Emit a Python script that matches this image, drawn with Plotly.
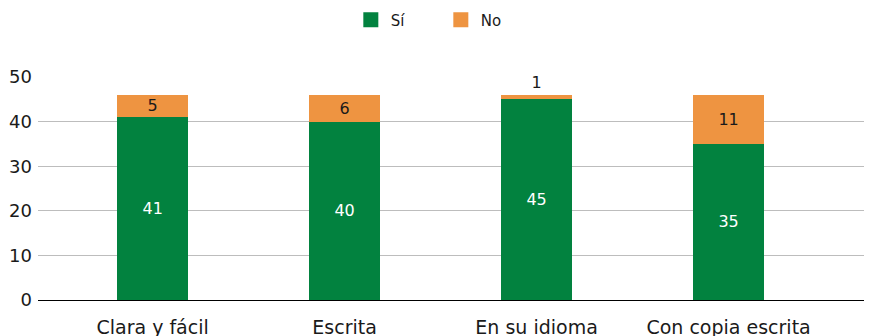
import plotly.graph_objects as go

categories = ["Clara y fácil", "Escrita", "En su idioma", "Con copia escrita"]
si_values = [41, 40, 45, 35]
no_values = [5, 6, 1, 11]
y_ticks = [0, 10, 20, 30, 40, 50]

GREEN = "#02823F"
ORANGE = "#EE9441"
FONT = "DejaVu Sans"

fig = go.Figure()
fig.add_trace(go.Bar(
    x=categories, y=si_values, name="Sí", marker=dict(color=GREEN, line=dict(width=0)),
    width=0.37, text=[str(v) for v in si_values], textposition="inside", textangle=0,
    insidetextanchor="middle", textfont=dict(color="white", size=16, family=FONT),
    showlegend=False,
))
no_pos = ["outside" if v < 2 else "inside" for v in no_values]
fig.add_trace(go.Bar(
    x=categories, y=no_values, name="No", marker=dict(color=ORANGE, line=dict(width=0)),
    width=0.37, text=[str(v) for v in no_values], textposition=no_pos, textangle=0,
    insidetextanchor="middle", textfont=dict(color="#1a1a1a", size=16, family=FONT),
    outsidetextfont=dict(color="#1a1a1a", size=16, family=FONT),
    showlegend=False,
))
# legend entries with larger square swatches
for name, col in [("Sí", GREEN), ("No", ORANGE)]:
    fig.add_trace(go.Scatter(
        x=[None], y=[None], mode="markers", name=name,
        marker=dict(symbol="square", size=15, color=col), showlegend=True,
    ))

fig.update_layout(
    barmode="stack",
    width=864, height=328,
    margin=dict(l=30, r=0, t=69, b=36, autoexpand=False),
    paper_bgcolor="white", plot_bgcolor="white",
    font=dict(family=FONT, color="#1a1a1a"),
    showlegend=True,
    legend=dict(orientation="h", x=0.483, xanchor="center", y=1.256, yanchor="middle",
                font=dict(size=15, family=FONT), itemwidth=30, traceorder="normal",
                entrywidth=45),
    xaxis=dict(type="category", range=[-0.597, 3.747], showgrid=False,
               showline=True, linecolor="black", linewidth=1.2,
               tickfont=dict(size=19, family=FONT), ticks="", ticklabelstandoff=10),
    yaxis=dict(range=[0, 50], tickvals=y_ticks, showgrid=True, gridcolor="#BDBDBD",
               gridwidth=1.2, zeroline=False, showline=False,
               tickfont=dict(size=18, family=FONT), ticks="", ticklabelstandoff=5),
)
fig.update_traces(cliponaxis=False, selector=dict(type="bar"))
fig.update_traces(constraintext="none", selector=dict(type="bar"))

fig.write_html("out.html")
